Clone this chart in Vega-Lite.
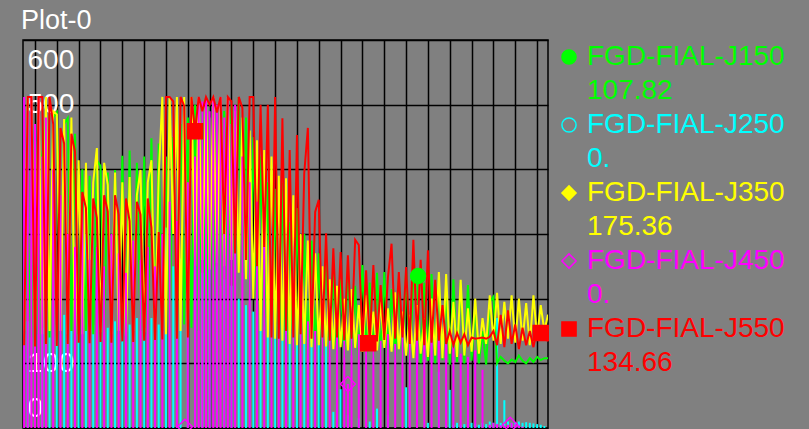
{
"$schema":"https://vega.github.io/schema/vega-lite/v6.json",
"width":525,"height":388,
"autosize":"none",
"padding":{"left":23,"top":40,"right":261,"bottom":1},
"background":"#808080",
"title":{"text":"Plot-0","anchor":"start","frame":"group","fontSize":27,"font":"Liberation Sans","fontWeight":"normal","color":"#ffffff","offset":10,"baseline":"alphabetic","dx":-2,"dy":26},
"config":{"view":{"stroke":"#000000","strokeWidth":1.5},"font":"Liberation Sans",
"legend":{"title":null,"orient":"none","legendX":532,"legendY":3,"direction":"vertical","labelFontSize":28,"labelFont":"Liberation Sans","labelLimit":0,"labelOffset":4,"symbolSize":200,"symbolStrokeWidth":1.5,"rowPadding":6}},
"datasets":{
"trend":[
{"t":0,"J150":145,"J250":0,"J350":150,"J450":512,"J550":128},
{"t":1,"J150":300,"J250":165,"J350":512,"J450":490,"J550":512},
{"t":2,"J150":140,"J250":0,"J350":512,"J450":512,"J550":512},
{"t":3,"J150":350,"J250":170,"J350":148,"J450":470,"J550":126},
{"t":4,"J150":145,"J250":0,"J350":512,"J450":512,"J550":512},
{"t":5,"J150":420,"J250":155,"J350":145,"J450":420,"J550":512},
{"t":6,"J150":473,"J250":0,"J350":512,"J450":480,"J550":130},
{"t":7,"J150":140,"J250":170,"J350":150,"J450":0,"J550":512},
{"t":8,"J150":480,"J250":0,"J350":490,"J450":400,"J550":470},
{"t":9,"J150":488,"J250":160,"J350":485,"J450":0,"J550":127},
{"t":10,"J150":145,"J250":0,"J350":150,"J450":360,"J550":464},
{"t":11,"J150":470,"J250":175,"J350":478,"J450":0,"J550":440},
{"t":12,"J150":479,"J250":0,"J350":145,"J450":300,"J550":130},
{"t":13,"J150":150,"J250":150,"J350":480,"J450":0,"J550":455},
{"t":14,"J150":455,"J250":0,"J350":140,"J450":280,"J550":427},
{"t":15,"J150":145,"J250":165,"J350":414,"J450":0,"J550":132},
{"t":16,"J150":400,"J250":0,"J350":145,"J450":360,"J550":365},
{"t":17,"J150":150,"J250":300,"J350":410,"J450":0,"J550":340},
{"t":18,"J150":390,"J250":0,"J350":150,"J450":260,"J550":131},
{"t":19,"J150":145,"J250":160,"J350":380,"J450":0,"J550":355},
{"t":20,"J150":414,"J250":0,"J350":433,"J450":280,"J550":325},
{"t":21,"J150":405,"J250":170,"J350":148,"J450":0,"J550":133},
{"t":22,"J150":148,"J250":0,"J350":410,"J450":250,"J550":360},
{"t":23,"J150":395,"J250":155,"J350":376,"J450":0,"J550":335},
{"t":24,"J150":150,"J250":0,"J350":145,"J450":300,"J550":132},
{"t":25,"J150":399,"J250":165,"J350":395,"J450":0,"J550":360},
{"t":26,"J150":145,"J250":0,"J350":150,"J450":270,"J550":330},
{"t":27,"J150":421,"J250":175,"J350":380,"J450":0,"J550":134},
{"t":28,"J150":150,"J250":0,"J350":142,"J450":240,"J550":355},
{"t":29,"J150":429,"J250":160,"J350":388,"J450":0,"J550":320},
{"t":30,"J150":148,"J250":0,"J350":150,"J450":290,"J550":133},
{"t":31,"J150":410,"J250":170,"J350":360,"J450":0,"J550":350},
{"t":32,"J150":150,"J250":0,"J350":399,"J450":260,"J550":330},
{"t":33,"J150":420,"J250":155,"J350":148,"J450":0,"J550":135},
{"t":34,"J150":145,"J250":0,"J350":380,"J450":280,"J550":355},
{"t":35,"J150":448,"J250":170,"J350":414,"J450":0,"J550":310},
{"t":36,"J150":150,"J250":0,"J350":150,"J450":250,"J550":136},
{"t":37,"J150":440,"J250":160,"J350":390,"J450":0,"J550":303},
{"t":38,"J150":150,"J250":0,"J350":512,"J450":300,"J550":137},
{"t":39,"J150":420,"J250":310,"J350":145,"J450":0,"J550":512},
{"t":40,"J150":155,"J250":0,"J350":512,"J450":350,"J550":512},
{"t":41,"J150":450,"J250":250,"J350":300,"J450":0,"J550":505},
{"t":42,"J150":150,"J250":0,"J350":512,"J450":320,"J550":138},
{"t":43,"J150":470,"J250":262,"J350":150,"J450":0,"J550":512},
{"t":44,"J150":160,"J250":0,"J350":512,"J450":0,"J550":498},
{"t":45,"J150":480,"J250":245,"J350":140,"J450":380,"J550":140},
{"t":46,"J150":155,"J250":0,"J350":512,"J450":0,"J550":512},
{"t":47,"J150":500,"J250":255,"J350":250,"J450":420,"J550":459},
{"t":48,"J150":150,"J250":0,"J350":512,"J450":512,"J550":512},
{"t":49,"J150":490,"J250":240,"J350":260,"J450":505,"J550":490},
{"t":50,"J150":160,"J250":0,"J350":512,"J450":512,"J550":512},
{"t":51,"J150":480,"J250":260,"J350":245,"J450":490,"J550":500},
{"t":52,"J150":200,"J250":0,"J350":512,"J450":512,"J550":512},
{"t":53,"J150":470,"J250":250,"J350":255,"J450":500,"J550":488},
{"t":54,"J150":220,"J250":0,"J350":512,"J450":512,"J550":512},
{"t":55,"J150":490,"J250":230,"J350":250,"J450":480,"J550":300},
{"t":56,"J150":230,"J250":0,"J350":512,"J450":512,"J550":512},
{"t":57,"J150":500,"J250":220,"J350":260,"J450":470,"J550":505},
{"t":58,"J150":250,"J250":0,"J350":490,"J450":500,"J550":270},
{"t":59,"J150":512,"J250":200,"J350":240,"J450":0,"J550":512},
{"t":60,"J150":240,"J250":0,"J350":480,"J450":420,"J550":495},
{"t":61,"J150":480,"J250":190,"J350":230,"J450":0,"J550":260},
{"t":62,"J150":200,"J250":0,"J350":460,"J450":380,"J550":512},
{"t":63,"J150":450,"J250":180,"J350":200,"J450":0,"J550":512},
{"t":64,"J150":180,"J250":0,"J350":445,"J450":350,"J550":250},
{"t":65,"J150":420,"J250":175,"J350":150,"J450":0,"J550":500},
{"t":66,"J150":150,"J250":0,"J350":430,"J450":330,"J550":280},
{"t":67,"J150":380,"J250":170,"J350":140,"J450":0,"J550":500},
{"t":68,"J150":120,"J250":0,"J350":420,"J450":220,"J550":140},
{"t":69,"J150":370,"J250":160,"J350":138,"J450":0,"J550":512},
{"t":70,"J150":118,"J250":0,"J350":390,"J450":210,"J550":138},
{"t":71,"J150":379,"J250":180,"J350":135,"J450":0,"J550":479},
{"t":72,"J150":115,"J250":0,"J350":386,"J450":190,"J550":150},
{"t":73,"J150":318,"J250":150,"J350":130,"J450":0,"J550":430},
{"t":74,"J150":120,"J250":0,"J350":360,"J450":200,"J550":140},
{"t":75,"J150":340,"J250":145,"J350":128,"J450":0,"J550":453},
{"t":76,"J150":115,"J250":0,"J350":300,"J450":175,"J550":145},
{"t":77,"J150":300,"J250":140,"J350":130,"J450":0,"J550":394},
{"t":78,"J150":112,"J250":0,"J350":290,"J450":165,"J550":464},
{"t":79,"J150":290,"J250":150,"J350":125,"J450":0,"J550":138},
{"t":80,"J150":118,"J250":0,"J350":270,"J450":150,"J550":334},
{"t":81,"J150":270,"J250":135,"J350":128,"J450":0,"J550":353},
{"t":82,"J150":112,"J250":0,"J350":250,"J450":160,"J550":140},
{"t":83,"J150":280,"J250":140,"J350":126,"J450":0,"J550":301},
{"t":84,"J150":110,"J250":0,"J350":230,"J450":140,"J550":135},
{"t":85,"J150":240,"J250":25,"J350":122,"J450":0,"J550":278},
{"t":86,"J150":115,"J250":0,"J350":220,"J450":150,"J550":140},
{"t":87,"J150":230,"J250":60,"J350":125,"J450":0,"J550":272},
{"t":88,"J150":108,"J250":0,"J350":200,"J450":135,"J550":136},
{"t":89,"J150":252,"J250":20,"J350":120,"J450":68,"J550":267},
{"t":90,"J150":112,"J250":0,"J350":215,"J450":140,"J550":138},
{"t":91,"J150":220,"J250":0,"J350":124,"J450":0,"J550":291},
{"t":92,"J150":105,"J250":15,"J350":190,"J450":145,"J550":283},
{"t":93,"J150":252,"J250":0,"J350":118,"J450":0,"J550":135},
{"t":94,"J150":110,"J250":0,"J350":205,"J450":130,"J550":244},
{"t":95,"J150":225,"J250":10,"J350":122,"J450":0,"J550":131},
{"t":96,"J150":108,"J250":0,"J350":180,"J450":140,"J550":252},
{"t":97,"J150":240,"J250":30,"J350":120,"J450":0,"J550":134},
{"t":98,"J150":104,"J250":0,"J350":195,"J450":135,"J550":221},
{"t":99,"J150":241,"J250":0,"J350":124,"J450":0,"J550":136},
{"t":100,"J150":110,"J250":20,"J350":185,"J450":145,"J550":233},
{"t":101,"J150":215,"J250":0,"J350":118,"J450":0,"J550":285},
{"t":102,"J150":106,"J250":0,"J350":210,"J450":130,"J550":138},
{"t":103,"J150":230,"J250":0,"J350":122,"J450":0,"J550":241},
{"t":104,"J150":100,"J250":0,"J350":180,"J450":150,"J550":140},
{"t":105,"J150":244,"J250":63,"J350":112,"J450":0,"J550":249},
{"t":106,"J150":102,"J250":0,"J350":175,"J450":145,"J550":130},
{"t":107,"J150":230,"J250":0,"J350":108,"J450":0,"J550":291},
{"t":108,"J150":235,"J250":5,"J350":190,"J450":140,"J550":135},
{"t":109,"J150":100,"J250":0,"J350":115,"J450":0,"J550":260},
{"t":110,"J150":225,"J250":0,"J350":170,"J450":150,"J550":128},
{"t":111,"J150":104,"J250":8,"J350":110,"J450":0,"J550":275},
{"t":112,"J150":238,"J250":0,"J350":200,"J450":135,"J550":132},
{"t":113,"J150":100,"J250":0,"J350":112,"J450":0,"J550":229},
{"t":114,"J150":229,"J250":87,"J350":241,"J450":140,"J550":135},
{"t":115,"J150":105,"J250":0,"J350":108,"J450":0,"J550":190},
{"t":116,"J150":215,"J250":5,"J350":238,"J450":130,"J550":130},
{"t":117,"J150":98,"J250":59,"J350":115,"J450":0,"J550":150},
{"t":118,"J150":230,"J250":5,"J350":195,"J450":125,"J550":128},
{"t":119,"J150":102,"J250":8,"J350":110,"J450":0,"J550":147},
{"t":120,"J150":226,"J250":5,"J350":229,"J450":115,"J550":132},
{"t":121,"J150":100,"J250":6,"J350":112,"J450":0,"J550":145},
{"t":122,"J150":221,"J250":39,"J350":185,"J450":110,"J550":128},
{"t":123,"J150":104,"J250":8,"J350":118,"J450":0,"J550":140},
{"t":124,"J150":190,"J250":6,"J350":200,"J450":120,"J550":138},
{"t":125,"J150":100,"J250":5,"J350":115,"J450":0,"J550":139},
{"t":126,"J150":150,"J250":8,"J350":170,"J450":90,"J550":140},
{"t":127,"J150":98,"J250":6,"J350":130,"J450":0,"J550":138},
{"t":128,"J150":195,"J250":10,"J350":205,"J450":5,"J550":141},
{"t":129,"J150":203,"J250":8,"J350":135,"J450":8,"J550":150},
{"t":130,"J150":100,"J250":170,"J350":209,"J450":6,"J550":128},
{"t":131,"J150":110,"J250":8,"J350":130,"J450":4,"J550":175},
{"t":132,"J150":104,"J250":43,"J350":195,"J450":3,"J550":125},
{"t":133,"J150":100,"J250":10,"J350":138,"J450":5,"J550":182},
{"t":134,"J150":106,"J250":8,"J350":205,"J450":8,"J550":130},
{"t":135,"J150":102,"J250":9,"J350":132,"J450":6,"J550":160},
{"t":136,"J150":112,"J250":10,"J350":200,"J450":4,"J550":122},
{"t":137,"J150":104,"J250":8,"J350":135,"J450":2,"J550":155},
{"t":138,"J150":100,"J250":9,"J350":193,"J450":0,"J550":128},
{"t":139,"J150":108,"J250":8,"J350":128,"J450":0,"J550":150},
{"t":140,"J150":102,"J250":7,"J350":205,"J450":0,"J550":125},
{"t":141,"J150":110,"J250":6,"J350":140,"J450":0,"J550":152},
{"t":142,"J150":105,"J250":5,"J350":190,"J450":0,"J550":147},
{"t":143,"J150":108,"J250":3,"J350":150,"J450":0,"J550":138},
{"t":144,"J150":107.82,"J250":0,"J350":175.36,"J450":0,"J550":134.66}
],
"markers":[
{"series":"J550","t":47,"value":459},
{"series":"J550","t":94.6,"value":131},
{"series":"J550","t":142,"value":147},
{"series":"J150","t":108.3,"value":235},
{"series":"J450","t":44.2,"value":2},
{"series":"J450","t":89,"value":68},
{"series":"J450","t":133.6,"value":5}
]
},
"encoding":{
"x":{"field":"t","type":"quantitative","scale":{"domain":[-0.3,144],"nice":false,"zero":false},
"axis":{"title":null,"labels":false,"ticks":false,"domain":false,"grid":true,"gridColor":"#000000","gridWidth":1.5,"gridOpacity":1,"values":[3,9,15,21,27,33,39,45,51,57,63,69,75,81,87,93,99,105,111,117,123,129,135,141]}},
"y":{"field":"value","type":"quantitative","scale":{"domain":[0,600],"nice":false},
"axis":{"title":null,"values":[0,100,200,300,400,500,600],"labelExpr":"(datum.value == 200 || datum.value == 300 || datum.value == 400) ? '' : datum.label","grid":true,"gridColor":"#000000","gridWidth":1.5,"gridOpacity":1,"domain":false,"ticks":false,"tickSize":0,"labelColor":"#ffffff","labelFontSize":28,"labelFont":"Liberation Sans","labelAlign":"left","labelPadding":-4,"labelFlush":true,"labelFlushOffset":-6}}
},
"layer":[
{"data":{"name":"trend"},
"transform":[{"fold":["J250"],"as":["series","value"]}],
"mark":{"type":"rule","strokeWidth":2,"clip":true},
"encoding":{
"y2":{"datum":0},
"stroke":{"field":"series","type":"nominal","scale":{"domain":["J150","J250","J350","J450","J550"],"range":["#00ff00","#00ffff","#ffff00","#ff00ff","#ff0000"]},
"legend":{"labelExpr":"['FGD-FIAL-' + datum.label, datum.label == 'J150' ? '107.82' : datum.label == 'J350' ? '175.36' : datum.label == 'J550' ? '134.66' : '0.']","encode":{"labels":{"update":{"fill":{"scale":"stroke","field":"value"},"lineHeight":{"value":34}}}}}
}
}
},
{"data":{"name":"trend"},
"transform":[{"fold":["J150","J350"],"as":["series","value"]}],
"mark":{"type":"line","strokeWidth":2,"clip":true},
"encoding":{
"stroke":{"field":"series","type":"nominal","scale":{"domain":["J150","J250","J350","J450","J550"],"range":["#00ff00","#00ffff","#ffff00","#ff00ff","#ff0000"]},
"legend":{"labelExpr":"['FGD-FIAL-' + datum.label, datum.label == 'J150' ? '107.82' : datum.label == 'J350' ? '175.36' : datum.label == 'J550' ? '134.66' : '0.']","encode":{"labels":{"update":{"fill":{"scale":"stroke","field":"value"},"lineHeight":{"value":34}}}}}
}
}
},
{"data":{"name":"trend"},
"transform":[{"fold":["J450"],"as":["series","value"]}],
"mark":{"type":"rule","strokeWidth":2,"clip":true},
"encoding":{
"y2":{"datum":0},
"stroke":{"field":"series","type":"nominal","scale":{"domain":["J150","J250","J350","J450","J550"],"range":["#00ff00","#00ffff","#ffff00","#ff00ff","#ff0000"]},
"legend":{"labelExpr":"['FGD-FIAL-' + datum.label, datum.label == 'J150' ? '107.82' : datum.label == 'J350' ? '175.36' : datum.label == 'J550' ? '134.66' : '0.']","encode":{"labels":{"update":{"fill":{"scale":"stroke","field":"value"},"lineHeight":{"value":34}}}}}
}
}
},
{"data":{"name":"trend"},
"transform":[{"fold":["J550"],"as":["series","value"]}],
"mark":{"type":"line","strokeWidth":2,"clip":true},
"encoding":{
"stroke":{"field":"series","type":"nominal","scale":{"domain":["J150","J250","J350","J450","J550"],"range":["#00ff00","#00ffff","#ffff00","#ff00ff","#ff0000"]},
"legend":{"labelExpr":"['FGD-FIAL-' + datum.label, datum.label == 'J150' ? '107.82' : datum.label == 'J350' ? '175.36' : datum.label == 'J550' ? '134.66' : '0.']","encode":{"labels":{"update":{"fill":{"scale":"stroke","field":"value"},"lineHeight":{"value":34}}}}}
}
}
},
{"data":{"name":"markers"},
"mark":{"type":"point","size":225,"strokeWidth":1.5,"opacity":1},
"encoding":{
"stroke":{"field":"series","type":"nominal","scale":{"domain":["J150","J250","J350","J450","J550"],"range":["#00ff00","#00ffff","#ffff00","#ff00ff","#ff0000"]},
"legend":{"labelExpr":"['FGD-FIAL-' + datum.label, datum.label == 'J150' ? '107.82' : datum.label == 'J350' ? '175.36' : datum.label == 'J550' ? '134.66' : '0.']","encode":{"labels":{"update":{"fill":{"scale":"stroke","field":"value"},"lineHeight":{"value":34}}}}}
},
"fill":{"field":"series","type":"nominal","scale":{"domain":["J150","J250","J350","J450","J550"],"range":["#00ff00","transparent","#ffff00","transparent","#ff0000"]},
"legend":{"labelExpr":"['FGD-FIAL-' + datum.label, datum.label == 'J150' ? '107.82' : datum.label == 'J350' ? '175.36' : datum.label == 'J550' ? '134.66' : '0.']","encode":{"labels":{"update":{"fill":{"scale":"stroke","field":"value"},"lineHeight":{"value":34}}}}}
},
"shape":{"field":"series","type":"nominal","scale":{"domain":["J150","J250","J350","J450","J550"],"range":["circle","circle","diamond","diamond","square"]},
"legend":{"labelExpr":"['FGD-FIAL-' + datum.label, datum.label == 'J150' ? '107.82' : datum.label == 'J350' ? '175.36' : datum.label == 'J550' ? '134.66' : '0.']","encode":{"labels":{"update":{"fill":{"scale":"stroke","field":"value"},"lineHeight":{"value":34}}}}}
}
}
}
]
}
